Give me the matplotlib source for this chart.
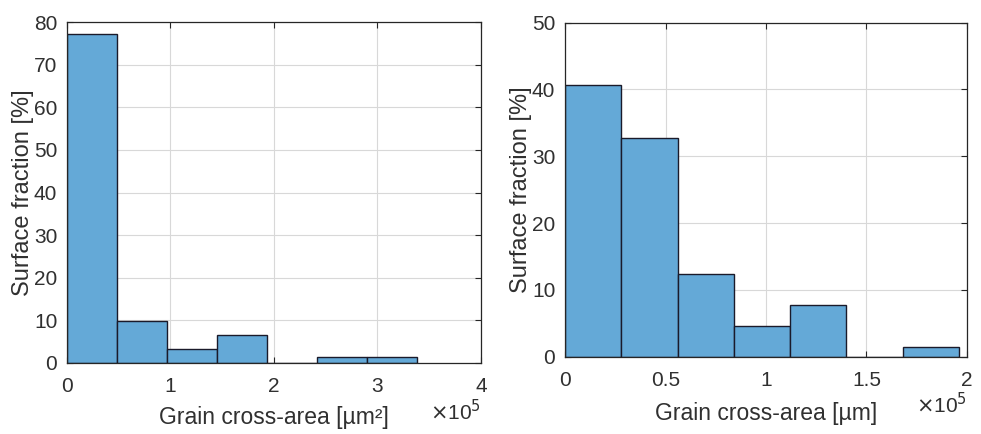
import matplotlib.pyplot as plt
from matplotlib.ticker import FuncFormatter

plt.rcParams['font.family'] = ['Liberation Sans', 'DejaVu Sans']

# left panel: grain cross-area [um^2]
left_edges = [0, 0.483e5, 0.966e5, 1.449e5, 1.932e5, 2.415e5, 2.898e5, 3.381e5]
left_vals = [77.1, 9.8, 3.3, 6.6, 0.0, 1.5, 1.5]
left_xticks = [0, 1e5, 2e5, 3e5, 4e5]
left_yticks = [0, 10, 20, 30, 40, 50, 60, 70, 80]

# right panel: grain cross-area [um]
right_edges = [0, 0.28e5, 0.56e5, 0.84e5, 1.12e5, 1.40e5, 1.68e5, 1.96e5]
right_vals = [40.6, 32.8, 12.4, 4.6, 7.7, 0.0, 1.4]
right_xticks = [0, 0.5e5, 1e5, 1.5e5, 2e5]
right_yticks = [0, 10, 20, 30, 40, 50]

bar_color = '#64a9d7'
edge_color = '#1a1a2a'
txt_color = '#303030'

fig = plt.figure(figsize=(9.81, 4.34), dpi=100)
ax1 = fig.add_axes([0.0683, 0.1636, 0.4220, 0.7854])
ax2 = fig.add_axes([0.5760, 0.1780, 0.4097, 0.7700])

def draw(ax, edges, vals, xticks, yticks, xlabel, xpad):
    widths = [edges[i + 1] - edges[i] for i in range(len(vals))]
    ax.bar(edges[:-1], vals, width=widths, align='edge', color=bar_color,
           edgecolor=edge_color, linewidth=1.0, zorder=2)
    ax.set_xlim(xticks[0], xticks[-1])
    ax.set_ylim(yticks[0], yticks[-1])
    ax.set_xticks(xticks)
    ax.set_yticks(yticks)
    ax.xaxis.set_major_formatter(FuncFormatter(lambda v, p: '%g' % (v / 1e5)))
    ax.grid(True, color='#d8d8d8', linewidth=0.8, zorder=0)
    ax.set_axisbelow(True)
    ax.tick_params(direction='in', length=4, width=0.8, colors='#262626',
                   labelcolor=txt_color, labelsize=15, top=True, right=True)
    ax.tick_params(axis='x', pad=10)
    ax.tick_params(axis='y', pad=7)
    for s in ax.spines.values():
        s.set_color('#262626')
        s.set_linewidth(0.9)
    ax.set_ylabel('Surface fraction [%]', fontsize=17, color=txt_color, labelpad=0)
    ax.set_xlabel(xlabel, fontsize=16.5, color=txt_color, labelpad=xpad)
    ax.text(1.0, -0.105, r'$\times$10$^5$', transform=ax.transAxes, ha='right',
            va='top', fontsize=15, color=txt_color)

draw(ax1, left_edges, left_vals, left_xticks, left_yticks, 'Grain cross-area [µm²]', 7)
draw(ax2, right_edges, right_vals, right_xticks, right_yticks, 'Grain cross-area [µm]', 9)

fig.savefig('out.png', dpi=100)
